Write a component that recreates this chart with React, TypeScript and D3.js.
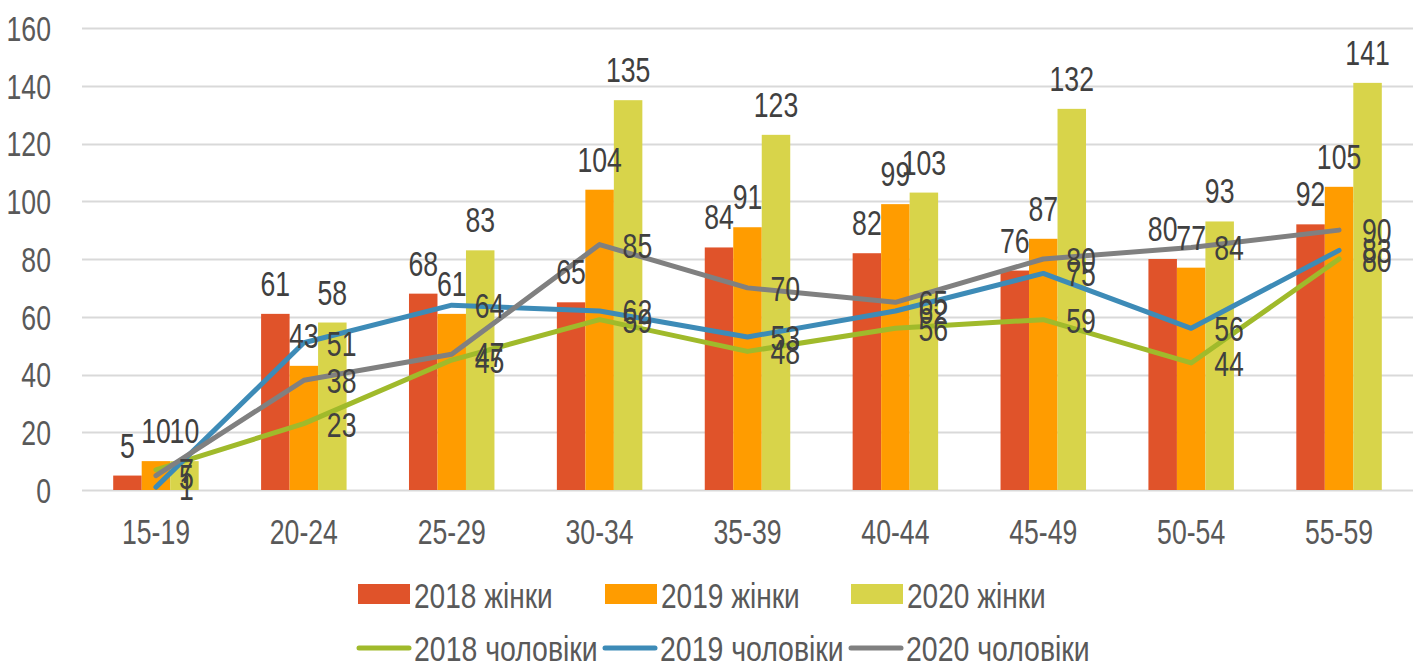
import React, { useEffect, useRef } from 'react';
import * as d3 from 'd3';

const categories = ['15-19', '20-24', '25-29', '30-34', '35-39', '40-44', '45-49', '50-54', '55-59'];
const women2018 = [5, 61, 68, 65, 84, 82, 76, 80, 92];
const women2019 = [10, 43, 61, 104, 91, 99, 87, 77, 105];
const women2020 = [10, 58, 83, 135, 123, 103, 132, 93, 141];
const men2018 = [7, 23, 45, 59, 48, 56, 59, 44, 80];
const men2019 = [1, 51, 64, 62, 53, 62, 75, 56, 83];
const men2020 = [5, 38, 47, 85, 70, 65, 80, 84, 90];
const yTicks = [0, 20, 40, 60, 80, 100, 120, 140, 160];

const barSeries = [
  { name: '2018 жінки', values: women2018, color: '#E0532A' },
  { name: '2019 жінки', values: women2019, color: '#FF9C00' },
  { name: '2020 жінки', values: women2020, color: '#D8D44A' },
];
const lineSeries = [
  { name: '2018 чоловіки', values: men2018, color: '#A0BA2B' },
  { name: '2019 чоловіки', values: men2019, color: '#3D8BB7' },
  { name: '2020 чоловіки', values: men2020, color: '#808080' },
];

const W = 1423;
const H = 663;
const FONT = 'Liberation Sans, Arial, sans-serif';
const FS = 36;
const SX = 0.74;

export default function App() {
  const ref = useRef<SVGSVGElement>(null);

  useEffect(() => {
    document.body.style.margin = '0';
    const svg = d3.select(ref.current);
    svg.selectAll('*').remove();

    const x0 = d3.scaleBand().domain(categories).range([82, 1413]).paddingInner(0.422).paddingOuter(0.211);
    const x1 = d3.scaleBand().domain(barSeries.map((s) => s.name)).range([0, x0.bandwidth()]);
    const y = d3.scaleLinear().domain([0, 160]).range([490, 28]);
    const cx = (c: string) => (x0(c) as number) + x0.bandwidth() / 2;

    // condensed text helper
    const label = (g: any, tx: number, ty: number, txt: string, anchor: string, fill = '#404040', sx = SX) =>
      g.append('text')
        .attr('transform', `translate(${tx},${ty}) scale(${sx},1)`)
        .attr('text-anchor', anchor)
        .attr('font-family', FONT)
        .attr('font-size', FS)
        .attr('fill', fill)
        .text(txt);

    // grid
    svg.append('g')
      .selectAll('line')
      .data(yTicks)
      .enter()
      .append('line')
      .attr('x1', 82)
      .attr('x2', 1413)
      .attr('y1', (d) => Math.round(y(d)) + 0.5)
      .attr('y2', (d) => Math.round(y(d)) + 0.5)
      .attr('stroke', '#D9D9D9')
      .attr('stroke-width', 2);

    const axisG = svg.append('g');
    yTicks.forEach((t) => label(axisG, 51, y(t) + FS * 0.36, String(t), 'end', '#595959'));
    categories.forEach((c) => label(axisG, cx(c), 544, c, 'middle', '#595959'));

    // bars
    barSeries.forEach((s) => {
      svg.append('g')
        .selectAll('rect')
        .data(s.values)
        .enter()
        .append('rect')
        .attr('x', (d, i) => (x0(categories[i]) as number) + (x1(s.name) as number))
        .attr('y', (d) => y(d))
        .attr('width', x1.bandwidth())
        .attr('height', (d) => y(0) - y(d))
        .attr('fill', s.color);
    });

    // lines
    const line = d3.line<number>()
      .x((d, i) => cx(categories[i]))
      .y((d) => y(d));
    lineSeries.forEach((s) => {
      svg.append('path')
        .datum(s.values)
        .attr('d', line)
        .attr('fill', 'none')
        .attr('stroke', s.color)
        .attr('stroke-width', 5)
        .attr('stroke-linejoin', 'round')
        .attr('stroke-linecap', 'round');
    });

    // labels
    const lbl = svg.append('g');
    barSeries.forEach((s) => {
      s.values.forEach((v, i) => {
        const bx = (x0(categories[i]) as number) + (x1(s.name) as number) + x1.bandwidth() / 2;
        label(lbl, bx, y(v) - 18, String(v), 'middle');
      });
    });
    lineSeries.forEach((s) => {
      s.values.forEach((v, i) => {
        label(lbl, cx(categories[i]) + 23, y(v) + FS * 0.36, String(v), 'start');
      });
    });

    // legend
    const leg = svg.append('g');
    const row1X = [358, 605, 851];
    const row2X = [357, 603, 849];
    barSeries.forEach((s, i) => {
      leg.append('rect')
        .attr('x', row1X[i])
        .attr('y', 584)
        .attr('width', 52)
        .attr('height', 20)
        .attr('fill', s.color);
      label(leg, row1X[i] + 56, 595 + FS * 0.36, s.name, 'start', '#595959', 0.78);
    });
    lineSeries.forEach((s, i) => {
      leg.append('line')
        .attr('x1', row2X[i] + 2)
        .attr('x2', row2X[i] + 52)
        .attr('y1', 648)
        .attr('y2', 648)
        .attr('stroke', s.color)
        .attr('stroke-width', 5)
        .attr('stroke-linecap', 'round');
      label(leg, row2X[i] + 57, 648 + FS * 0.36, s.name, 'start', '#595959', 0.79);
    });
  }, []);

  return <svg ref={ref} width={W} height={H} style={{ display: 'block', background: '#fff' }} />;
}
